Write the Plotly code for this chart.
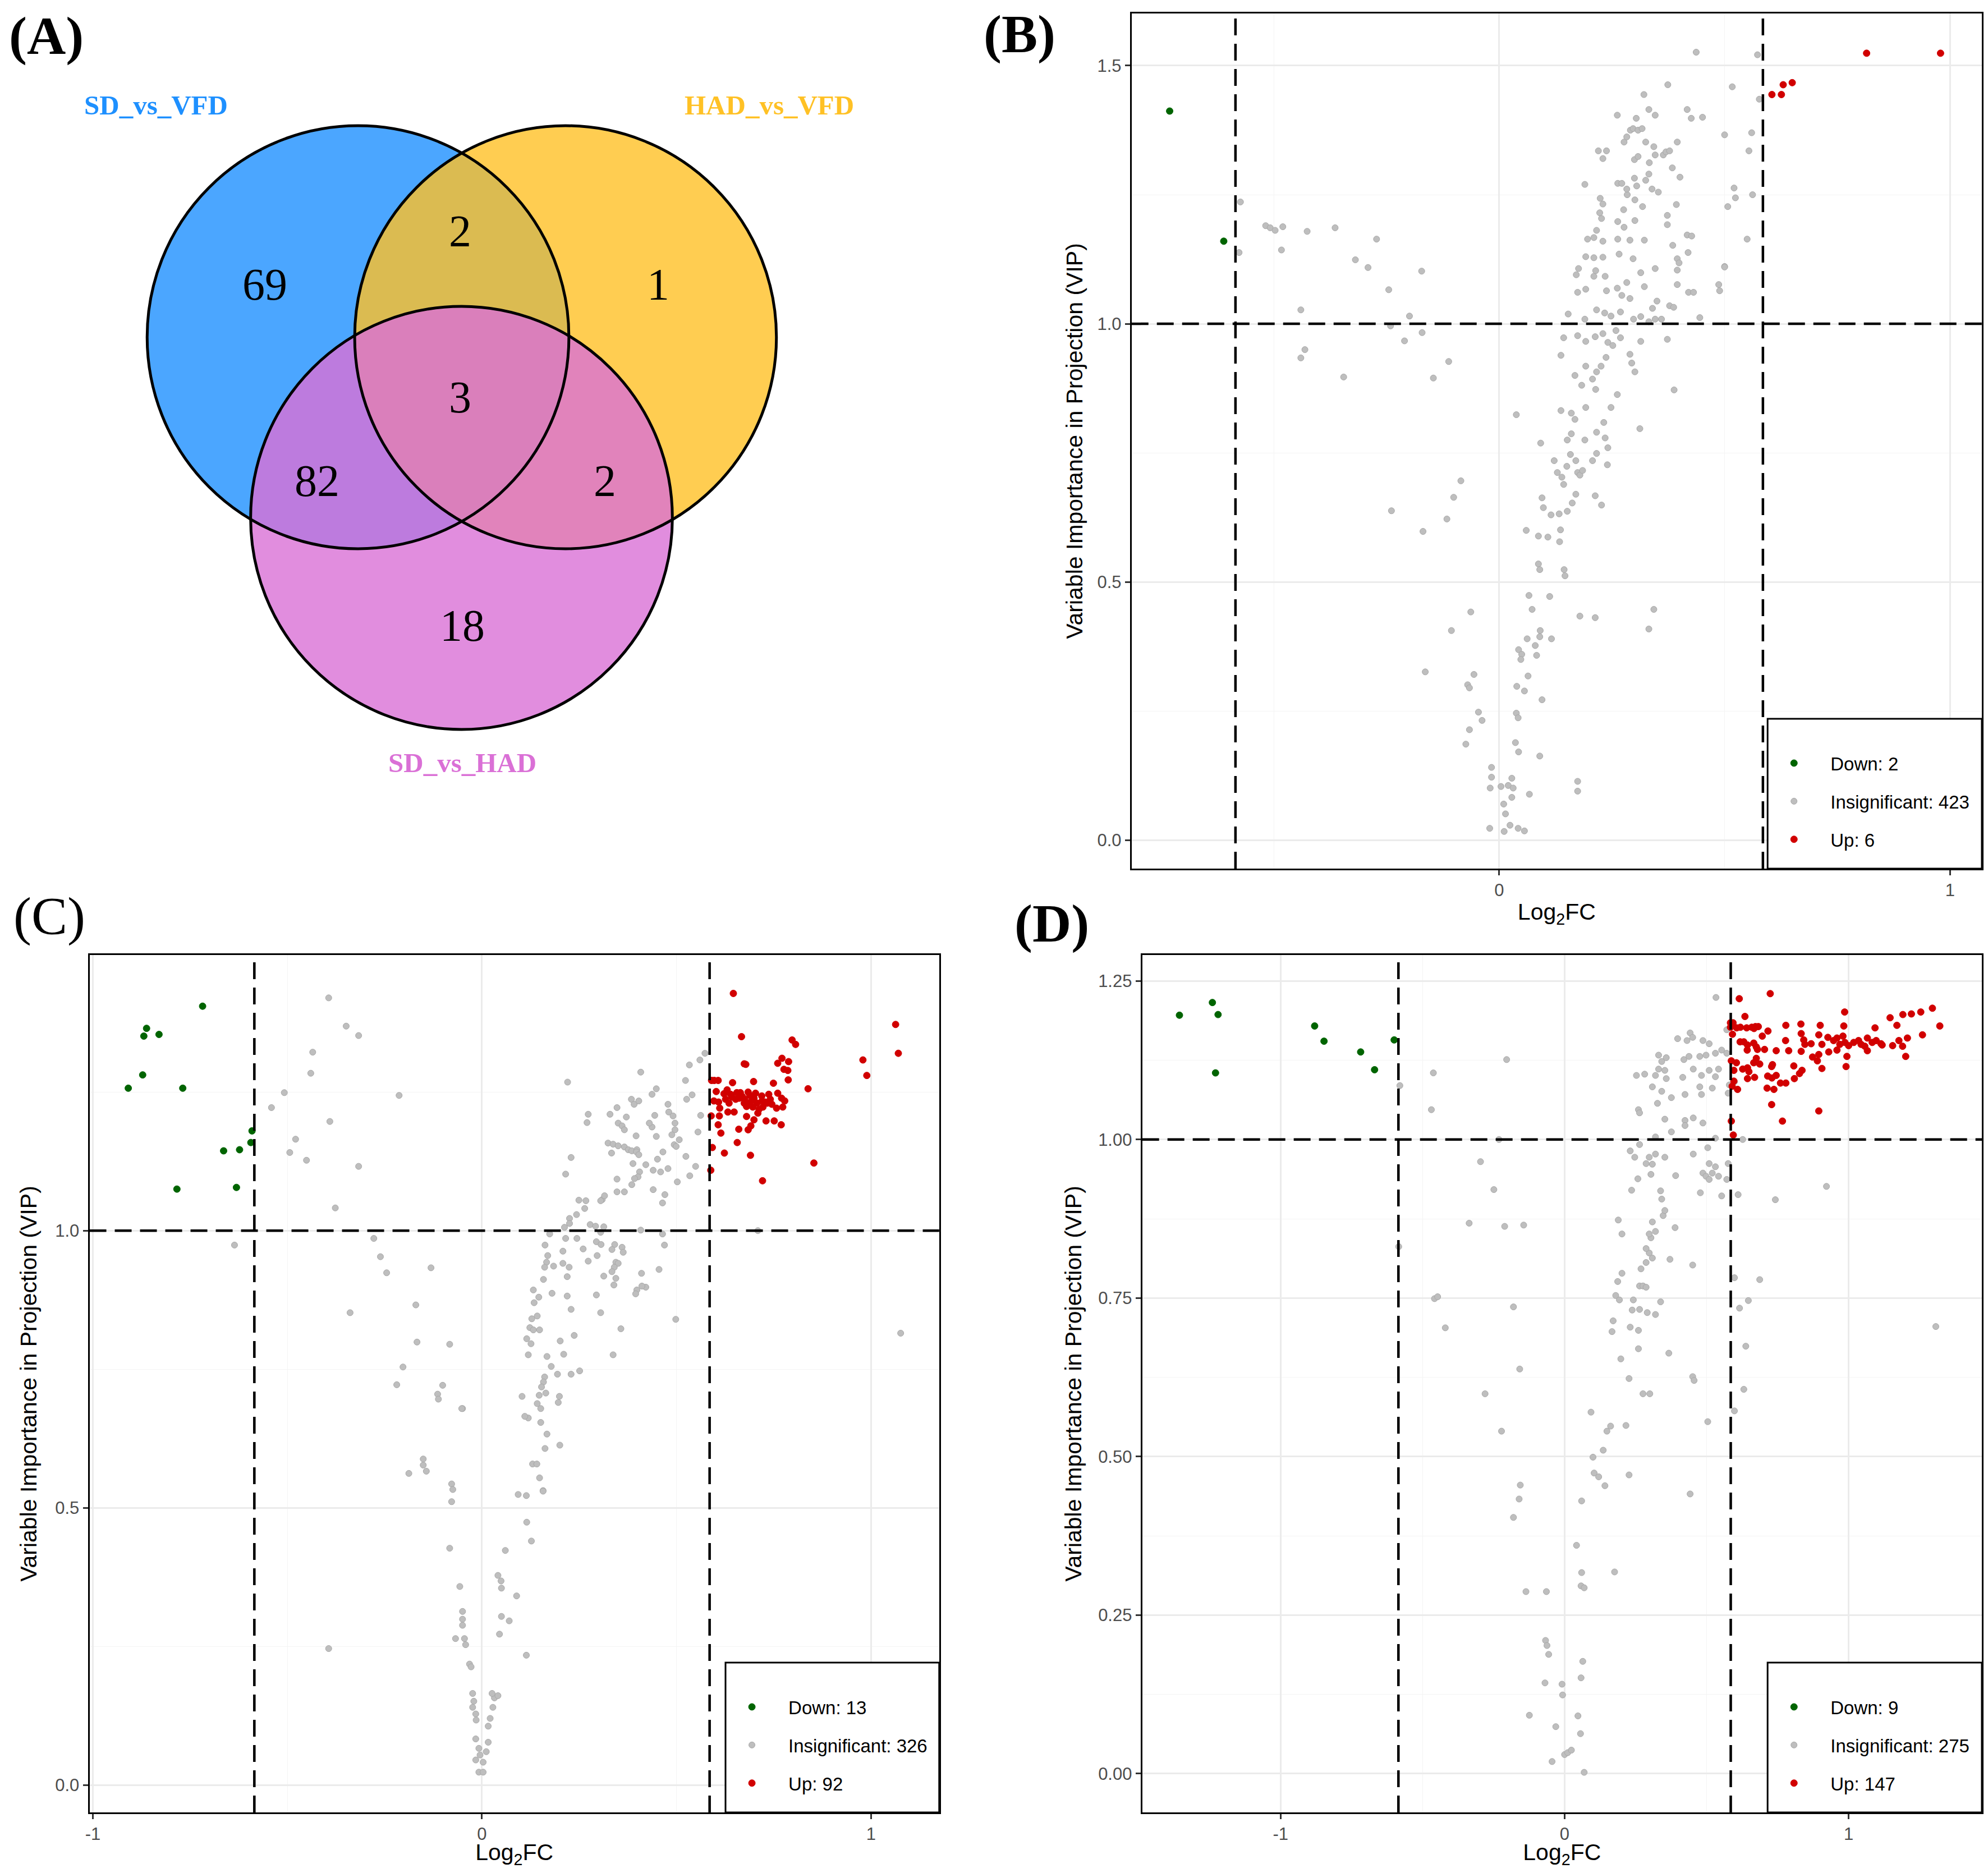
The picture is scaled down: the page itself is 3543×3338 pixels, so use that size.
import plotly.graph_objects as go

W, H = 3543, 3338
OFF = 8  # the page body keeps a default 8px margin around the plot div
FW, FH = W - 2 * OFF, H - 2 * OFF

# ---- panel A: Venn counts ----
SET_NAMES = ["SD_vs_VFD", "HAD_vs_VFD", "SD_vs_HAD"]
SET_COLORS = ["#1E90FF", "#FFC125", "#DA70D6"]
REGION_COUNTS = [69, 1, 18, 2, 82, 2, 3]  # only1, only2, only3, 1&2, 1&3, 2&3, all

# ---- thresholds ----
FC_LO, FC_HI = -0.585, 0.585
VIP_CUT = 1.0

# ---- panel B ----
B_COUNTS = [2, 423, 6]
B_DOWN = [(-0.731, 1.412), (-0.611, 1.160)]
B_UP = [(0.605, 1.444), (0.626, 1.444), (0.630, 1.463), (0.650, 1.467), (0.815, 1.524), (0.979, 1.524)]
B_NS = [
    (-0.574, 1.236), (-0.577, 1.138), (-0.518, 1.190), (-0.508, 1.186), (-0.497, 1.181), (-0.480, 1.188),
    (-0.483, 1.143), (-0.426, 1.179), (-0.364, 1.186), (-0.272, 1.164), (-0.319, 1.124), (-0.291, 1.109),
    (-0.245, 1.066), (-0.172, 1.102), (-0.440, 1.027), (-0.199, 1.015), (-0.241, 0.996), (-0.210, 0.967),
    (-0.171, 0.983), (-0.431, 0.950), (-0.440, 0.934), (-0.345, 0.897), (-0.146, 0.895), (-0.112, 0.927),
    (0.038, 0.824), (-0.085, 0.696), (-0.101, 0.664), (-0.239, 0.638), (-0.116, 0.622), (-0.169, 0.598),
    (-0.063, 0.442), (-0.106, 0.406), (-0.164, 0.326), (-0.056, 0.321), (-0.070, 0.301), (-0.066, 0.295),
    (-0.046, 0.248), (-0.038, 0.232), (-0.066, 0.214), (-0.074, 0.186), (-0.017, 0.141), (-0.017, 0.122),
    (-0.020, 0.101), (0.004, 0.104), (0.028, 0.120), (0.020, 0.106), (0.031, 0.101), (0.067, 0.089),
    (0.028, 0.083), (0.010, 0.070), (0.014, 0.051), (-0.021, 0.023), (0.011, 0.017), (0.024, 0.029),
    (0.042, 0.023), (0.056, 0.018), (0.036, 0.189), (0.043, 0.171), (0.090, 0.163), (0.174, 0.114),
    (0.174, 0.095), (0.039, 0.298), (0.064, 0.318), (0.056, 0.289), (0.095, 0.272), (0.038, 0.246),
    (0.042, 0.237), (0.043, 0.369), (0.050, 0.360), (0.048, 0.350), (0.062, 0.390), (0.080, 0.377),
    (0.090, 0.394), (0.091, 0.406), (0.116, 0.390), (0.083, 0.358), (0.073, 0.447), (0.066, 0.474),
    (0.112, 0.472), (0.087, 0.535), (0.090, 0.524), (0.144, 0.524), (0.146, 0.512), (0.179, 0.434),
    (0.213, 0.431), (0.343, 0.447), (0.332, 0.409), (0.060, 0.600), (0.087, 0.589), (0.108, 0.587),
    (0.134, 0.578), (0.136, 0.601), (0.115, 0.630), (0.133, 0.632), (0.151, 0.637), (0.095, 0.663),
    (0.098, 0.644), (0.162, 0.653), (0.170, 0.670), (0.213, 0.667), (0.227, 0.649), (0.092, 0.769),
    (0.122, 0.735), (0.129, 0.712), (0.139, 0.703), (0.143, 0.689), (0.150, 0.724), (0.158, 0.747),
    (0.160, 0.787), (0.151, 0.775), (0.137, 0.832), (0.160, 0.827), (0.168, 0.815), (0.174, 0.712),
    (0.179, 0.707), (0.185, 0.716), (0.170, 0.735), (0.190, 0.775), (0.207, 0.735), (0.216, 0.790),
    (0.235, 0.779), (0.216, 0.749), (0.241, 0.760), (0.232, 0.809), (0.240, 0.727), (0.248, 0.838),
    (0.262, 0.863), (0.312, 0.797), (0.192, 0.838), (0.214, 0.873), (0.183, 0.881), (0.207, 0.893),
    (0.168, 0.900), (0.192, 0.918), (0.216, 0.907), (0.226, 0.918), (0.237, 0.935), (0.290, 0.941),
    (0.301, 0.907), (0.294, 0.924), (0.388, 0.872), (0.373, 0.970), (0.143, 0.973), (0.137, 0.939),
    (0.174, 0.977), (0.192, 0.966), (0.213, 0.975), (0.230, 0.981), (0.241, 0.964), (0.252, 0.958),
    (0.269, 0.973), (0.259, 0.987), (0.314, 0.966), (0.153, 1.019), (0.190, 1.009), (0.216, 1.027),
    (0.234, 1.021), (0.248, 1.015), (0.269, 1.023), (0.298, 1.009), (0.314, 1.014), (0.332, 1.004),
    (0.346, 1.009), (0.360, 1.009), (0.340, 1.030), (0.445, 1.012), (0.378, 1.035), (0.387, 1.032),
    (0.171, 1.095), (0.176, 1.107), (0.174, 1.061), (0.192, 1.067), (0.210, 1.092), (0.214, 1.103),
    (0.235, 1.092), (0.238, 1.064), (0.262, 1.069), (0.272, 1.055), (0.290, 1.049), (0.283, 1.080),
    (0.314, 1.099), (0.322, 1.072), (0.346, 1.107), (0.350, 1.044), (0.395, 1.076), (0.420, 1.061),
    (0.431, 1.061), (0.419, 1.138), (0.395, 1.126), (0.399, 1.118), (0.487, 1.076), (0.489, 1.064),
    (0.500, 1.111), (0.192, 1.130), (0.210, 1.128), (0.230, 1.129), (0.266, 1.135), (0.297, 1.126),
    (0.196, 1.164), (0.210, 1.167), (0.230, 1.160), (0.263, 1.164), (0.290, 1.162), (0.322, 1.162),
    (0.417, 1.172), (0.427, 1.170), (0.550, 1.164), (0.216, 1.181), (0.227, 1.204), (0.223, 1.215),
    (0.263, 1.198), (0.277, 1.187), (0.301, 1.200), (0.224, 1.243), (0.230, 1.232), (0.276, 1.221),
    (0.284, 1.250), (0.301, 1.240), (0.318, 1.227), (0.373, 1.210), (0.393, 1.231), (0.507, 1.227),
    (0.524, 1.244), (0.521, 1.263), (0.562, 1.250), (0.190, 1.270), (0.263, 1.272), (0.272, 1.272),
    (0.283, 1.261), (0.300, 1.282), (0.305, 1.267), (0.325, 1.278), (0.339, 1.261), (0.353, 1.255),
    (0.332, 1.290), (0.401, 1.284), (0.333, 1.312), (0.300, 1.318), (0.346, 1.327), (0.364, 1.327),
    (0.370, 1.333), (0.378, 1.335), (0.343, 1.343), (0.308, 1.324), (0.220, 1.335), (0.230, 1.320),
    (0.238, 1.335), (0.384, 1.302), (0.277, 1.352), (0.283, 1.362), (0.291, 1.375), (0.297, 1.378),
    (0.308, 1.375), (0.317, 1.378), (0.325, 1.352), (0.395, 1.352), (0.304, 1.398), (0.262, 1.404),
    (0.346, 1.404), (0.332, 1.415), (0.417, 1.415), (0.426, 1.398), (0.451, 1.400), (0.500, 1.366),
    (0.554, 1.335), (0.560, 1.370), (0.321, 1.444), (0.374, 1.463), (0.437, 1.526), (0.517, 1.459),
    (0.573, 1.521), (0.577, 1.435), (0.373, 1.192), (0.385, 1.152), (0.395, 1.104), (0.500, 1.110),
]

# ---- panel C ----
C_COUNTS = [13, 326, 92]
C_DOWN = [
    (-0.718, 1.405), (-0.862, 1.365), (-0.869, 1.351), (-0.830, 1.354), (-0.872, 1.281), (-0.909, 1.257),
    (-0.769, 1.257), (-0.664, 1.144), (-0.623, 1.146), (-0.591, 1.180), (-0.594, 1.159), (-0.784, 1.075),
    (-0.631, 1.078),
]
C_UP = [
    (0.667, 1.350), (0.797, 1.344), (0.806, 1.336), (0.674, 1.301), (0.678, 1.300), (0.771, 1.311),
    (0.760, 1.302), (0.788, 1.305), (0.776, 1.291), (0.786, 1.289), (0.787, 1.272), (0.590, 1.271),
    (0.597, 1.271), (0.607, 1.271), (0.644, 1.267), (0.698, 1.269), (0.749, 1.266), (0.838, 1.256),
    (0.602, 1.251), (0.622, 1.247), (0.630, 1.254), (0.639, 1.246), (0.655, 1.249), (0.661, 1.239),
    (0.669, 1.242), (0.684, 1.250), (0.675, 1.237), (0.690, 1.232), (0.699, 1.239), (0.707, 1.230),
    (0.719, 1.243), (0.728, 1.232), (0.737, 1.246), (0.741, 1.237), (0.760, 1.248), (0.778, 1.234),
    (0.757, 1.221), (0.773, 1.223), (0.722, 1.223), (0.733, 1.230), (0.712, 1.219), (0.696, 1.223),
    (0.680, 1.224), (0.674, 1.230), (0.596, 1.234), (0.608, 1.232), (0.635, 1.230), (0.611, 1.221),
    (0.632, 1.214), (0.648, 1.214), (0.589, 1.207), (0.610, 1.207), (0.680, 1.206), (0.709, 1.212),
    (0.699, 1.200), (0.730, 1.198), (0.751, 1.198), (0.769, 1.191), (0.607, 1.191), (0.691, 1.189),
    (0.614, 1.176), (0.660, 1.183), (0.684, 1.182), (0.656, 1.159), (0.592, 1.150), (0.623, 1.140),
    (0.690, 1.136), (0.853, 1.122), (0.588, 1.109), (0.721, 1.090), (0.664, 1.249), (0.642, 1.241),
    (0.626, 1.237), (0.720, 1.234), (0.745, 1.228), (0.703, 1.248), (0.770, 1.239), (0.688, 1.244),
    (0.652, 1.237), (0.979, 1.308), (0.989, 1.280), (1.063, 1.372), (1.070, 1.320), (0.646, 1.428),
]
C_NS = [
    (-0.394, 1.420), (-0.349, 1.369), (-0.317, 1.352), (-0.435, 1.322), (-0.440, 1.284), (-0.508, 1.249),
    (-0.541, 1.222), (-0.391, 1.197), (-0.479, 1.165), (-0.494, 1.141), (-0.451, 1.127), (-0.317, 1.116),
    (-0.213, 1.244), (-0.377, 1.041), (-0.636, 0.974), (-0.278, 0.986), (-0.261, 0.953), (-0.245, 0.924),
    (-0.131, 0.933), (-0.339, 0.852), (-0.170, 0.866), (-0.167, 0.799), (-0.083, 0.795), (-0.203, 0.754),
    (-0.219, 0.722), (-0.101, 0.721), (-0.114, 0.705), (-0.112, 0.696), (-0.050, 0.679), (-0.151, 0.588),
    (-0.151, 0.577), (-0.143, 0.566), (-0.188, 0.562), (-0.078, 0.543), (-0.075, 0.533), (-0.078, 0.511),
    (-0.083, 0.427), (-0.057, 0.358), (-0.050, 0.313), (-0.050, 0.299), (-0.050, 0.288), (-0.068, 0.264),
    (-0.045, 0.264), (-0.042, 0.253), (-0.032, 0.218), (-0.028, 0.213), (-0.394, 0.246), (-0.024, 0.165),
    (-0.021, 0.151), (-0.024, 0.140), (-0.016, 0.128), (-0.015, 0.117), (-0.016, 0.083), (-0.008, 0.066),
    (-0.016, 0.045), (-0.005, 0.054), (0.003, 0.041), (0.011, 0.060), (-0.008, 0.023), (0.003, 0.023),
    (0.016, 0.077), (0.016, 0.106), (0.021, 0.120), (0.028, 0.140), (0.032, 0.157), (0.041, 0.161),
    (0.026, 0.165), (0.045, 0.272), (0.050, 0.304), (0.070, 0.296), (0.041, 0.378), (0.049, 0.368),
    (0.050, 0.355), (0.089, 0.341), (0.060, 0.423), (0.114, 0.234), (0.093, 0.524), (0.114, 0.522),
    (0.115, 0.474), (0.127, 0.440), (0.157, 0.531), (0.148, 0.554), (0.130, 0.579), (1.076, 0.815),
    (0.709, 1.000), (0.119, 0.662), (0.151, 0.654), (0.167, 0.633), (0.200, 0.613), (0.162, 0.607),
    (0.141, 0.579), (0.157, 0.530),
    (0.220, 1.268), (0.273, 1.210), (0.270, 1.195), (0.229, 1.132), (0.215, 1.102), (0.408, 1.286),
    (0.329, 1.210), (0.347, 1.222), (0.350, 1.194), (0.360, 1.189), (0.366, 1.182), (0.371, 1.205),
    (0.384, 1.237), (0.391, 1.228), (0.403, 1.234), (0.396, 1.171), (0.324, 1.158), (0.337, 1.156),
    (0.350, 1.153), (0.366, 1.151), (0.376, 1.146), (0.385, 1.144), (0.398, 1.146), (0.397, 1.142),
    (0.403, 1.137), (0.333, 1.140), (0.388, 1.121), (0.421, 1.119), (0.440, 1.109), (0.459, 1.106),
    (0.478, 1.112), (0.405, 1.106), (0.401, 1.097), (0.392, 1.094), (0.347, 1.093), (0.385, 1.083),
    (0.366, 1.070), (0.347, 1.070), (0.440, 1.074), (0.470, 1.065), (0.464, 1.050), (0.502, 1.088),
    (0.534, 1.099), (0.549, 1.116), (0.524, 1.134), (0.451, 1.129), (0.465, 1.142), (0.448, 1.170),
    (0.437, 1.187), (0.430, 1.194), (0.444, 1.208), (0.478, 1.228), (0.480, 1.214), (0.491, 1.207),
    (0.496, 1.194), (0.496, 1.182), (0.488, 1.173), (0.507, 1.164), (0.494, 1.155), (0.499, 1.152),
    (0.437, 1.246), (0.448, 1.256), (0.526, 1.237), (0.540, 1.245), (0.523, 1.271), (0.533, 1.299),
    (0.560, 1.308), (0.573, 1.320), (0.562, 1.208), (0.555, 1.178), (0.249, 1.055), (0.267, 1.054),
    (0.264, 1.040), (0.243, 1.029), (0.225, 1.022), (0.225, 1.013), (0.212, 1.006), (0.309, 1.056),
    (0.305, 1.054), (0.315, 1.063), (0.278, 1.011), (0.292, 1.008), (0.313, 1.007), (0.305, 0.997),
    (0.174, 0.994), (0.215, 0.986), (0.244, 0.986), (0.294, 0.980), (0.306, 0.975), (0.341, 0.975),
    (0.360, 0.970), (0.363, 0.961), (0.162, 0.974), (0.208, 0.963), (0.260, 0.967), (0.296, 0.955),
    (0.334, 0.966), (0.169, 0.955), (0.166, 0.943), (0.161, 0.934), (0.184, 0.936), (0.208, 0.941),
    (0.224, 0.934), (0.273, 0.945), (0.344, 0.943), (0.350, 0.941), (0.340, 0.934), (0.334, 0.926),
    (0.219, 0.917), (0.313, 0.918), (0.344, 0.914), (0.339, 0.902), (0.158, 0.912), (0.410, 0.923),
    (0.421, 0.898), (0.411, 0.900), (0.398, 0.893), (0.395, 0.886), (0.455, 0.930), (0.469, 0.974),
    (0.464, 0.994), (0.408, 1.001), (0.132, 0.893), (0.146, 0.880), (0.134, 0.870), (0.180, 0.887),
    (0.219, 0.882), (0.294, 0.884), (0.229, 0.858), (0.305, 0.852), (0.498, 0.840), (0.357, 0.823),
    (0.142, 0.846), (0.128, 0.841), (0.123, 0.825), (0.132, 0.821), (0.148, 0.821), (0.115, 0.805),
    (0.126, 0.796), (0.201, 0.801), (0.237, 0.811), (0.119, 0.776), (0.167, 0.773), (0.210, 0.777),
    (0.337, 0.776), (0.178, 0.755), (0.194, 0.741), (0.229, 0.741), (0.251, 0.747), (0.161, 0.736),
    (0.158, 0.727), (0.153, 0.718), (0.164, 0.707), (0.147, 0.703), (0.103, 0.701), (0.199, 0.701),
    (0.196, 0.690), (0.142, 0.688), (0.151, 0.679), (-0.052, 0.679), (0.110, 0.665),
]

# ---- panel D ----
D_COUNTS = [9, 275, 147]
D_DOWN = [
    (-1.356, 1.196), (-1.240, 1.216), (-1.220, 1.197), (-1.229, 1.105), (-0.880, 1.179), (-0.847, 1.155),
    (-0.718, 1.138), (-0.669, 1.110), (-0.600, 1.157),
]
D_UP = [
    (0.724, 1.230), (0.615, 1.222), (0.635, 1.194), (0.986, 1.201), (1.295, 1.207), (1.254, 1.201),
    (1.221, 1.198), (1.191, 1.197), (1.146, 1.192), (1.170, 1.180), (1.321, 1.179), (1.260, 1.165),
    (1.207, 1.160), (1.177, 1.156), (1.190, 1.147), (1.155, 1.148), (1.201, 1.131), (0.584, 1.184),
    (0.593, 1.184), (0.584, 1.177), (0.606, 1.176), (0.619, 1.177), (0.641, 1.176), (0.659, 1.177),
    (0.672, 1.178), (0.682, 1.178), (0.667, 1.175), (0.716, 1.171), (0.696, 1.163), (0.779, 1.180),
    (0.832, 1.182), (0.900, 1.180), (0.983, 1.179), (1.093, 1.176), (0.591, 1.166), (0.618, 1.154),
    (0.631, 1.154), (0.644, 1.149), (0.666, 1.152), (0.675, 1.146), (0.679, 1.142), (0.643, 1.141),
    (0.704, 1.142), (0.745, 1.140), (0.789, 1.140), (0.778, 1.156), (0.833, 1.167), (0.842, 1.157),
    (0.846, 1.150), (0.868, 1.151), (0.895, 1.165), (0.906, 1.150), (0.927, 1.161), (0.947, 1.156),
    (0.959, 1.160), (0.980, 1.163), (0.987, 1.153), (0.969, 1.150), (0.959, 1.141), (0.930, 1.138),
    (1.000, 1.148), (1.018, 1.153), (1.035, 1.156), (1.044, 1.150), (1.066, 1.160), (1.066, 1.140),
    (1.083, 1.153), (1.097, 1.156), (1.114, 1.151), (1.118, 1.149), (1.057, 1.147), (0.833, 1.139),
    (0.873, 1.130), (0.895, 1.134), (0.890, 1.124), (0.994, 1.131), (0.991, 1.115), (0.906, 1.112),
    (0.807, 1.116), (0.836, 1.109), (0.827, 1.104), (0.809, 1.096), (0.732, 1.118), (0.729, 1.115),
    (0.715, 1.100), (0.730, 1.097), (0.745, 1.101), (0.760, 1.089), (0.779, 1.089), (0.713, 1.081),
    (0.737, 1.079), (0.687, 1.119), (0.675, 1.128), (0.666, 1.121), (0.587, 1.124), (0.605, 1.121),
    (0.596, 1.109), (0.627, 1.111), (0.644, 1.113), (0.649, 1.107), (0.644, 1.096), (0.669, 1.098),
    (0.596, 1.092), (0.590, 1.084), (0.609, 1.079), (0.729, 1.055), (0.895, 1.045), (0.767, 1.029),
    (0.587, 1.029), (0.594, 1.007),
]
D_NS = [
    (-0.462, 1.105), (-0.469, 1.047), (-0.580, 1.085), (-0.584, 0.831), (-0.204, 1.126), (-0.231, 1.000),
    (-0.296, 0.965), (-0.249, 0.921), (-0.336, 0.868), (-0.211, 0.863), (-0.144, 0.865), (-0.458, 0.749),
    (-0.447, 0.752), (-0.420, 0.703), (-0.180, 0.736), (-0.158, 0.638), (-0.280, 0.599), (-0.222, 0.540),
    (-0.156, 0.455), (-0.160, 0.433), (-0.180, 0.404), (-0.136, 0.287), (-0.064, 0.287), (-0.067, 0.210),
    (-0.062, 0.202), (-0.056, 0.188), (-0.069, 0.143), (-0.124, 0.092), (-0.031, 0.074), (-0.044, 0.019),
    (-0.009, 0.141), (-0.007, 0.124), (0.000, 0.030), (0.011, 0.033), (0.024, 0.037), (0.069, 0.002),
    (0.047, 0.091), (0.056, 0.063), (0.058, 0.151), (0.064, 0.177), (0.042, 0.360), (0.060, 0.317),
    (0.058, 0.296), (0.069, 0.293), (0.060, 0.430), (0.176, 0.318), (0.093, 0.570), (0.100, 0.499),
    (0.104, 0.474), (0.120, 0.468), (0.142, 0.454), (0.136, 0.510), (0.149, 0.540), (0.162, 0.548),
    (0.216, 0.549), (0.227, 0.471), (0.442, 0.441), (0.504, 0.555), (0.598, 0.572), (0.631, 0.606),
    (0.638, 0.674), (0.616, 0.734), (0.647, 0.746), (0.598, 0.782), (0.687, 0.779), (0.742, 0.905),
    (0.922, 0.926), (1.307, 0.705), (0.611, 0.913), (0.627, 1.000), (0.367, 0.663), (0.451, 0.626),
    (0.456, 0.620), (0.276, 0.599), (0.300, 0.599), (0.227, 0.623), (0.198, 0.654), (0.260, 0.670),
    (0.260, 0.699), (0.231, 0.704), (0.291, 0.727), (0.320, 0.724), (0.338, 0.744), (0.264, 0.732),
    (0.238, 0.731), (0.171, 0.714), (0.167, 0.697), (0.180, 0.754), (0.193, 0.747), (0.242, 0.747),
    (0.187, 0.776), (0.202, 0.789), (0.264, 0.769), (0.276, 0.769), (0.287, 0.767), (0.269, 0.796),
    (0.287, 0.806), (0.309, 0.813), (0.298, 0.821), (0.371, 0.811), (0.287, 0.828), (0.304, 0.845),
    (0.320, 0.855), (0.298, 0.851), (0.189, 0.873), (0.202, 0.851), (0.451, 0.802), (0.389, 0.861),
    (0.347, 0.880), (0.353, 0.888), (0.309, 0.870), (0.342, 0.906), (0.338, 0.919), (0.236, 0.920),
    (0.258, 0.938), (0.304, 0.945), (0.309, 0.961), (0.391, 0.943), (0.478, 0.916), (0.553, 0.911),
    (0.298, 0.972), (0.287, 0.962), (0.231, 0.982), (0.247, 0.972), (0.320, 0.977), (0.353, 0.972),
    (0.453, 0.977), (0.504, 0.987), (0.509, 0.962), (0.487, 0.947), (0.498, 0.942), (0.520, 0.947),
    (0.531, 0.957), (0.509, 0.937), (0.542, 0.942), (0.576, 0.962), (0.571, 0.937), (0.264, 0.992),
    (0.320, 1.004), (0.376, 1.012), (0.424, 1.030), (0.453, 1.034), (0.487, 1.026), (0.531, 1.002),
    (0.353, 1.032), (0.424, 1.022), (0.260, 1.047), (0.264, 1.042), (0.327, 1.057), (0.376, 1.066),
    (0.424, 1.071), (0.476, 1.083), (0.482, 1.071), (0.520, 1.081), (0.576, 1.073), (0.580, 1.086),
    (0.309, 1.083), (0.342, 1.076), (0.358, 1.096), (0.253, 1.101), (0.282, 1.103), (0.320, 1.101),
    (0.331, 1.111), (0.353, 1.109), (0.342, 1.123), (0.416, 1.098), (0.453, 1.111), (0.482, 1.101),
    (0.509, 1.109), (0.531, 1.099), (0.542, 1.111), (0.331, 1.133), (0.358, 1.129), (0.420, 1.126),
    (0.438, 1.131), (0.476, 1.131), (0.498, 1.133), (0.531, 1.136), (0.553, 1.141), (0.571, 1.136),
    (0.398, 1.159), (0.431, 1.156), (0.442, 1.168), (0.451, 1.161), (0.487, 1.156), (0.509, 1.151),
    (0.571, 1.173), (0.533, 1.224), (0.598, 1.091),
]

LEGEND_NAMES = ["Down", "Insignificant", "Up"]
POINT_COLORS = ["#006400", "#BEBEBE", "#D10000"]

# tick labels
B_XTICKS, B_XLABELS = [0, 1], ["0", "1"]
B_YTICKS, B_YLABELS = [0, 0.5, 1.0, 1.5], ["0.0", "0.5", "1.0", "1.5"]
C_XTICKS, C_XLABELS = [-1, 0, 1], ["-1", "0", "1"]
C_YTICKS, C_YLABELS = [0, 0.5, 1.0], ["0.0", "0.5", "1.0"]
D_XTICKS, D_XLABELS = [-1, 0, 1], ["-1", "0", "1"]
D_YTICKS, D_YLABELS = [0, 0.25, 0.5, 0.75, 1.0, 1.25], ["0.00", "0.25", "0.50", "0.75", "1.00", "1.25"]

SANS = "Liberation Sans, Arial, sans-serif"
SERIF = "Liberation Serif, Times New Roman, serif"


def px(x):
    return min(1.0, max(0.0, (x - OFF) / FW))


def py(y):
    return min(1.0, max(0.0, 1 - (y - OFF) / FH))


fig = go.Figure()

# ---------------- Venn (panel A) ----------------
circles = [(632, 601), (1003, 601), (817, 923)]
R = 377
for (cx, cy), col in zip(circles, SET_COLORS):
    r, g, b = int(col[1:3], 16), int(col[3:5], 16), int(col[5:7], 16)
    fig.add_shape(type="circle", xref="x", yref="y", x0=cx - R, x1=cx + R, y0=cy - R, y1=cy + R,
                  fillcolor=f"rgba({r},{g},{b},0.8)", line=dict(width=0), layer="above")
for cx, cy in circles:
    fig.add_shape(type="circle", xref="x", yref="y", x0=cx - R, x1=cx + R, y0=cy - R, y1=cy + R,
                  line=dict(color="black", width=5), layer="above")

region_pos = [(465, 507), (1169, 507), (819, 1115), (815, 412), (559, 857), (1073, 857), (815, 708)]
for (tx, ty), n in zip(region_pos, REGION_COUNTS):
    fig.add_annotation(x=tx, y=ty, xref="x", yref="y", text=str(n), showarrow=False,
                       xanchor="center", yanchor="middle",
                       font=dict(family=SERIF, size=80, color="black"))
name_pos = [(271, 187), (1367, 187), (819, 1359)]
for (tx, ty), name, col in zip(name_pos, SET_NAMES, SET_COLORS):
    fig.add_annotation(x=tx, y=ty, xref="x", yref="y", text=f"<b>{name}</b>", showarrow=False,
                       xanchor="center", yanchor="middle",
                       font=dict(family=SERIF, size=49, color=col))

venn_right = OFF + 0.5 * FW
fig.update_layout(
    xaxis=dict(domain=[0, 0.5], range=[OFF, venn_right], visible=False, fixedrange=True),
    yaxis=dict(domain=[py(1500), 1], range=[1500, OFF], visible=False, fixedrange=True),
)

# ---------------- volcano panels ----------------
panels = [
    dict(n=2, down=B_DOWN, ns=B_NS, up=B_UP, counts=B_COUNTS, box=(2015, 24, 3537, 1548),
         xr=[-0.8154, 1.0706], yr=[-0.055, 1.601], xt=(B_XTICKS, B_XLABELS), yt=(B_YTICKS, B_YLABELS),
         xminor=[-0.5, 0.5], yminor=[0.25, 0.75, 1.25], leg="legend", leg_box=(3152, 1281), ystand=14),
    dict(n=3, down=C_DOWN, ns=C_NS, up=C_UP, counts=C_COUNTS, box=(152, 1702, 1671, 3230),
         xr=[-1.0086, 1.175], yr=[-0.0496, 1.4973], xt=(C_XTICKS, C_XLABELS), yt=(C_YTICKS, C_YLABELS),
         xminor=[-0.5, 0.5], yminor=[0.25, 0.75, 1.25], leg="legend2", leg_box=(1289, 2963), ystand=20),
    dict(n=4, down=D_DOWN, ns=D_NS, up=D_UP, counts=D_COUNTS, box=(2034, 1702, 3536, 3230),
         xr=[-1.487, 1.469], yr=[-0.0612, 1.2909], xt=(D_XTICKS, D_XLABELS), yt=(D_YTICKS, D_YLABELS),
         xminor=[-0.5, 0.5], yminor=[0.125, 0.375, 0.625, 0.875, 1.125], leg="legend3", leg_box=(3152, 2963), ystand=17),
]

layout_extra = {}
for p in panels:
    n = p["n"]
    l, t, r, b = p["box"]
    common_axis = dict(
        tickmode="array", showgrid=True, gridcolor="#EBEBEB", gridwidth=2.5, zeroline=False,
        showline=True, linecolor="black", linewidth=3, mirror=True,
        ticks="outside", ticklen=9, tickwidth=3, tickcolor="#333333",
        tickfont=dict(family=SANS, size=31, color="#4D4D4D"),
    )
    xa = dict(
        common_axis, domain=[px(l), px(r)], range=p["xr"], anchor=f"y{n}",
        tickvals=p["xt"][0], ticktext=p["xt"][1],
        minor=dict(tickmode="array", tickvals=p["xminor"], showgrid=True, gridcolor="#F4F4F4", gridwidth=1.3),
        title=dict(text="Log<sub>2</sub>FC", font=dict(family=SANS, size=41, color="black"), standoff=8),
    )
    ya = dict(
        common_axis, domain=[py(b), py(t)], range=p["yr"], anchor=f"x{n}",
        tickvals=p["yt"][0], ticktext=p["yt"][1],
        minor=dict(tickmode="array", tickvals=p["yminor"], showgrid=True, gridcolor="#F4F4F4", gridwidth=1.3),
        title=dict(text="Variable Importance in Projection (VIP)",
                   font=dict(family=SANS, size=41, color="black"), standoff=p["ystand"]),
    )
    layout_extra[f"xaxis{n}"] = xa
    layout_extra[f"yaxis{n}"] = ya

    series = [p["ns"], p["up"], p["down"]]
    ranks = [2, 3, 1]
    sizes = [11, 12, 12]
    for pts, rank, size in zip(series, ranks, sizes):
        k = rank - 1
        fig.add_trace(go.Scatter(
            x=[q[0] for q in pts], y=[q[1] for q in pts], mode="markers",
            xaxis=f"x{n}", yaxis=f"y{n}",
            name=f"{LEGEND_NAMES[k]}: {p['counts'][k]}",
            legend=p["leg"], legendgroup=f"{p['leg']}_{k}", legendrank=rank,
            marker=dict(color=POINT_COLORS[k], size=size,
                        line=dict(color="#A8A8A8" if k == 1 else POINT_COLORS[k], width=1)),
        ))

    dash = dict(color="black", width=4.5, dash="30px,15px")
    for xv in (FC_LO, FC_HI):
        fig.add_shape(type="line", xref=f"x{n}", yref=f"y{n} domain", x0=xv, x1=xv, y0=0, y1=1,
                      line=dash, layer="above")
    fig.add_shape(type="line", xref=f"x{n} domain", yref=f"y{n}", x0=0, x1=1, y0=VIP_CUT, y1=VIP_CUT,
                  line=dash, layer="above")

    bl, bt = p["leg_box"]
    fig.add_shape(type="rect", xref="paper", yref="paper", x0=px(bl), x1=px(r), y0=py(b), y1=py(bt),
                  fillcolor="white", line=dict(color="black", width=3), layer="above")
    layout_extra[p["leg"]] = dict(
        x=px(bl - 18), y=py(bt + 51), xanchor="left", yanchor="top",
        bgcolor="rgba(0,0,0,0)", borderwidth=0,
        font=dict(family=SANS, size=33, color="black"),
        itemwidth=120, tracegroupgap=22, traceorder="grouped",
    )

fig.update_layout(**layout_extra)

for lbl, (lx, ly), bold in [("(A)", (75, 64), True), ("(B)", (1815, 60), True),
                            ("(C)", (80, 1632), False), ("(D)", (1872, 1645), True)]:
    fig.add_annotation(x=px(lx), y=py(ly), xref="paper", yref="paper", showarrow=False,
                       xanchor="center", yanchor="middle",
                       text=f"<b>{lbl}</b>" if bold else lbl,
                       font=dict(family=SERIF, size=96, color="black"))

fig.update_layout(
    width=FW, height=FH, margin=dict(l=0, r=0, t=0, b=0),
    paper_bgcolor="white", plot_bgcolor="white", showlegend=True,
)

fig.write_html("out.html")
